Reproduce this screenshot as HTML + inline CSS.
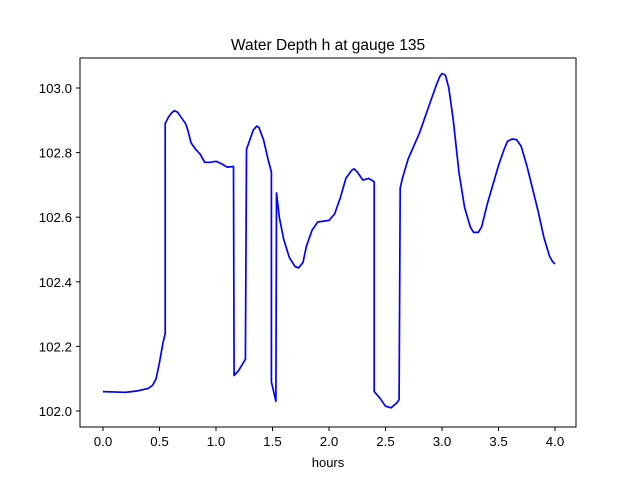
<!DOCTYPE html>
<html><head><meta charset="utf-8"><style>
body{margin:0;background:#fff;}
svg{display:block;font-family:"Liberation Sans","DejaVu Sans",sans-serif;}
</style></head><body>
<svg id="chart" width="640" height="480" xmlns="http://www.w3.org/2000/svg">
<rect width="640" height="480" fill="#fff"/>
<text x="328" y="50" text-anchor="middle" font-size="15.5">Water Depth h at gauge 135</text>
<g id="ticks"></g>
<path id="series" fill="none" stroke="#0000ff" stroke-width="1.7" stroke-linejoin="round"/>
<rect x="80" y="58" width="496" height="369" fill="none" stroke="#000" stroke-width="1"/>
<text x="328" y="467" text-anchor="middle" font-size="13">hours</text>
</svg>
<script>
const hours=[0,0.2,0.3,0.4,0.44,0.47,0.5,0.53,0.55,0.55,0.58,0.6,0.63,0.66,0.7,0.73,0.75,0.78,0.82,0.86,0.9,0.95,1.0,1.05,1.1,1.155,1.16,1.2,1.26,1.27,1.3,1.33,1.36,1.38,1.42,1.46,1.49,1.49,1.53,1.535,1.56,1.6,1.65,1.7,1.73,1.77,1.8,1.85,1.9,2.0,2.05,2.1,2.15,2.2,2.22,2.25,2.3,2.35,2.4,2.4,2.45,2.5,2.55,2.6,2.62,2.63,2.65,2.7,2.8,2.9,2.95,2.98,3.0,3.03,3.06,3.1,3.15,3.2,3.25,3.28,3.32,3.35,3.4,3.5,3.55,3.58,3.62,3.66,3.7,3.75,3.8,3.85,3.9,3.95,3.98,4.0];
const depth=[102.06,102.058,102.062,102.07,102.08,102.1,102.15,102.21,102.24,102.89,102.91,102.92,102.93,102.925,102.905,102.89,102.87,102.83,102.81,102.795,102.77,102.77,102.773,102.765,102.755,102.757,102.11,102.125,102.16,102.81,102.84,102.87,102.882,102.878,102.84,102.78,102.74,102.09,102.03,102.675,102.6,102.53,102.475,102.447,102.443,102.46,102.51,102.56,102.585,102.59,102.61,102.66,102.72,102.745,102.75,102.74,102.715,102.72,102.71,102.06,102.04,102.015,102.01,102.025,102.035,102.69,102.72,102.78,102.86,102.96,103.01,103.035,103.045,103.04,103.0,102.9,102.74,102.63,102.57,102.553,102.553,102.57,102.64,102.76,102.81,102.835,102.842,102.84,102.82,102.76,102.69,102.62,102.54,102.48,102.462,102.455];
const xTicks=[0.0,0.5,1.0,1.5,2.0,2.5,3.0,3.5,4.0];
const yTicks=[102.0,102.2,102.4,102.6,102.8,103.0];
const xs=v=>103+v*113;
const ys=v=>411-(v-102)*323;
const NS="http://www.w3.org/2000/svg";
const g=document.getElementById('ticks');
xTicks.forEach(t=>{
  const l=document.createElementNS(NS,'line');
  
  
  l.setAttribute('x1',xs(t));l.setAttribute('x2',xs(t));l.setAttribute('y1',427);l.setAttribute('y2',431);l.setAttribute('stroke','#000');
  g.appendChild(l);
  const tx=document.createElementNS(NS,'text');
  
  
  tx.setAttribute('x',xs(t));tx.setAttribute('y',446);tx.setAttribute('text-anchor','middle');tx.setAttribute('font-size','13.3');
  tx.textContent=t.toFixed(1);g.appendChild(tx);
});
yTicks.forEach(t=>{
  const l=document.createElementNS(NS,'line');
  
  
  l.setAttribute('x1',76);l.setAttribute('x2',80);l.setAttribute('y1',ys(t));l.setAttribute('y2',ys(t));l.setAttribute('stroke','#000');
  g.appendChild(l);
  const tx=document.createElementNS(NS,'text');
  
  
  tx.setAttribute('x',72);tx.setAttribute('y',ys(t)+5);tx.setAttribute('text-anchor','end');tx.setAttribute('font-size','13.3');
  tx.textContent=t.toFixed(1);g.appendChild(tx);
});
document.getElementById('series').setAttribute('d',hours.map((h,i)=>(i?'L':'M')+xs(h).toFixed(1)+','+ys(depth[i]).toFixed(1)).join(' '));
</script>
</body></html>
